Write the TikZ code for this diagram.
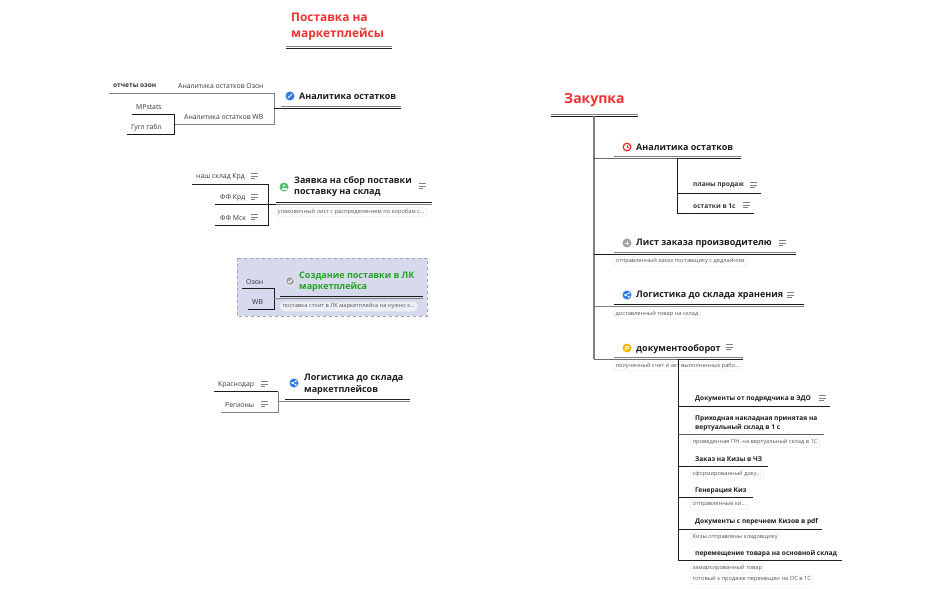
\documentclass[tikz,border=0pt]{standalone}
\usepackage{fontspec}
\setmainfont{Open Sans}
\usepackage{xcolor}
\usetikzlibrary{arrows.meta}
\definecolor{mmred}{HTML}{EE3030}
\definecolor{mmgreen}{HTML}{1FA51F}
\definecolor{mmdark}{HTML}{1C1C1C}
\definecolor{mmgray}{HTML}{808080}
\definecolor{mmtext}{HTML}{333333}
\definecolor{mmnote}{HTML}{555555}
\definecolor{mmbox}{HTML}{D6DAEC}
\definecolor{mmdash}{HTML}{9A9FD0}
\definecolor{mmblue}{HTML}{2F7BEA}
\definecolor{mmgrn}{HTML}{4CC36A}
\definecolor{mmyel}{HTML}{F8B400}
\definecolor{mmsilver}{HTML}{A0A0A0}
\tikzset{
  title/.style={anchor=west,inner sep=0pt,yshift=-0.7pt,align=left,text=mmred,font=\fontsize{11.9}{16}\selectfont\bfseries},
  topic/.style={anchor=west,inner sep=0pt,yshift=-0.7pt,align=left,text=mmdark,font=\fontsize{9}{11.5}\selectfont\bfseries},
  sub/.style={anchor=west,inner sep=0pt,yshift=-0.7pt,align=left,text=mmdark,font=\fontsize{6.6}{9.5}\selectfont\bfseries},
  leaf/.style={anchor=west,inner sep=0pt,yshift=-0.7pt,text=mmtext,font=\fontsize{6.85}{9}\selectfont},
  leafbold/.style={leaf,font=\fontsize{6.6}{9}\selectfont\bfseries},
  pill/.style={anchor=west,draw=black!10,fill=white,rounded corners=4pt,inner xsep=2.5pt,inner ysep=0pt,
    minimum height=9.5pt,text=mmnote,font=\fontsize{5.7}{7}\selectfont},
  icon/.style={circle,inner sep=0pt,minimum size=9pt},
  rulea/.style={line width=1pt,mmdark},
  ruleb/.style={line width=1pt,mmgray},
  trunk/.style={line width=1.5pt,mmgray},
  notes/.pic={
    \draw[line width=0.8pt,mmgray] (-3.5,-2.5) -- (3.5,-2.5) (-3.5,0) -- (3.5,0) (-3.5,2.5) -- (1,2.5);
  },
  gchart/.pic={
    \draw[white,line width=1pt] (-2.2,1.8) -- (0,0) -- (2,-2);
  },
  gperson/.pic={
    \fill[white] (0,-1.4) circle (1.3);
    \fill[white] (-2.5,2.6) rectangle (2.5,0.8);
  },
  gcheck/.pic={
    \draw[white,line width=1pt] (-2.2,0) -- (-0.6,1.7) -- (2.2,-1.6);
  },
  gshare/.pic={
    \draw[white,line width=0.6pt] (1.8,-1.8) -- (-1.8,0) -- (1.8,1.8);
    \fill[white] (1.8,-1.8) circle (1) (-1.8,0) circle (1) (1.8,1.8) circle (1);
  },
  gclock/.pic={
    \fill[white] (0,0) circle (3);
    \draw[mmred,line width=0.8pt] (0,-2) -- (0,0) -- (2,0);
  },
  gplus/.pic={
    \draw[white,line width=1pt] (-2.4,0) -- (2.4,0) (0,-2.4) -- (0,2.4);
  },
  gflag/.pic={
    \fill[white] (-2,-2.4) rectangle (2.4,0.8);
    \fill[mmyel] (-0.6,-1.2) rectangle (1.2,-0.2);
    \fill[white] (-2,0) rectangle (-0.8,2.8);
  },
}
\begin{document}
\begin{tikzpicture}[x=1pt,y=-1pt]
  \useasboundingbox (0,0) rectangle (951,589);

  \node[title] (delivery) at (291,26) {Поставка на\\маркетплейсы};
  \coordinate (deliveryA) at (286,48);
  \coordinate (deliveryB) at (392,48);
  \draw[rulea] (deliveryA) -- (deliveryB);
  \draw[ruleb] ([yshift=2pt]deliveryA) -- ([yshift=2pt]deliveryB);

  \node[icon,fill=mmblue] (stockIcon) at (290,96) {};
  \pic at (stockIcon) {gchart};
  \node[topic] (stock) at (299,96) {Аналитика остатков};
  \coordinate (stockA) at (281,108);
  \coordinate (stockB) at (401,108);
  \draw[rulea] (stockA) -- (stockB);
  \draw[ruleb] ([yshift=2pt]stockA) -- ([yshift=2pt]stockB);
  \coordinate (stockFork) at (274,108);
  \coordinate (ozonEnd) at (274,93);
  \coordinate (wbEnd) at (274,124);
  \coordinate (ozonStart) at (109,93);
  \coordinate (wbStart) at (174,124);
  \draw[ruleb] (ozonStart) -- (ozonEnd) -- (wbEnd) -- (wbStart);
  \draw[rulea] (stockFork) -- (stockA);
  \node[leaf] (stockOzon) at (178,85) {Аналитика остатков Озон};
  \node[leaf] (stockWb) at (184,116) {Аналитика остатков WB};
  \node[leafbold] (ozonRep) at (113,85) {отчеты озон};
  \node[leaf] (mpstats) at (136,106) {MPstats};
  \node[leaf] (gtable) at (131,127) {Гугл табл};
  \coordinate (mpA) at (132,114);
  \coordinate (mpB) at (174,114);
  \coordinate (gtA) at (127,134);
  \coordinate (gtB) at (174,134);
  \draw[rulea] (mpA) -- (mpB) -- (gtB) -- (gtA);

  \node[icon,fill=mmgrn] (requestIcon) at (284,187) {};
  \pic at (requestIcon) {gperson};
  \node[topic] (request) at (294,186) {Заявка на сбор поставки\\поставку на склад};
  \pic at (422,186) {notes};
  \coordinate (requestA) at (276,202);
  \coordinate (requestB) at (432,202);
  \draw[rulea] (requestA) -- (requestB);
  \draw[ruleb] ([yshift=-2pt]requestA) -- ([yshift=-2pt]requestB);
  \node[pill] (requestNote) at (275,212) {упаковочный лист с распределением по коробам с...};
  \coordinate (krdA) at (192,184);
  \coordinate (krdB) at (268,184);
  \coordinate (ffkA) at (215,204.5);
  \coordinate (ffkB) at (276,204.5);
  \coordinate (ffmA) at (215,225.5);
  \coordinate (ffmB) at (268,225.5);
  \draw[rulea] (krdA) -- (krdB) -- (ffmB) -- (ffmA);
  \draw[rulea] (ffkA) -- (ffkB);
  \node[leaf] (krd) at (196,176) {наш склад Крд};
  \pic at (254,176) {notes};
  \node[leaf] (ffk) at (220,197) {ФФ Крд};
  \pic at (254,197) {notes};
  \node[leaf] (ffm) at (220,217) {ФФ Мск};
  \pic at (254,217) {notes};

  \fill[mmbox,draw=mmdash,dashed,line width=0.7pt] (237,258) rectangle (427,316);
  \node[icon,fill=mmsilver,draw=white,line width=0.6pt] (createIcon) at (290,281) {};
  \pic at (createIcon) {gcheck};
  \node[topic,text=mmgreen] (create) at (299,281) {Создание поставки в ЛК\\маркетплейса};
  \coordinate (createA) at (280,296.5);
  \coordinate (createB) at (423,296.5);
  \draw[rulea] (createA) -- (createB);
  \draw[ruleb] ([yshift=-2.2pt]createA) -- ([yshift=-2.2pt]createB);
  \node[pill,fill=white!60!mmbox,draw=none] (createNote) at (280,306.5) {поставка стоит в ЛК маркетплейса на нужно к...};
  \coordinate (ozA) at (242,288);
  \coordinate (ozB) at (274,288);
  \coordinate (wbA) at (248,309);
  \coordinate (wbB) at (274,309);
  \coordinate (createFork) at (274,299);
  \draw[rulea] (ozA) -- (ozB) -- (wbB) -- (wbA);
  \draw[ruleb] (createFork) -- ([yshift=-2.2pt]createA);
  \node[leaf] (oz) at (246,281) {Озон};
  \node[leaf] (wb) at (252,301) {WB};

  \node[icon,fill=mmblue] (routeIcon) at (294,383) {};
  \pic at (routeIcon) {gshare};
  \node[topic] (route) at (304,383.5) {Логистика до склада\\маркетплейсов};
  \coordinate (routeA) at (285,399);
  \coordinate (routeB) at (410,399);
  \draw[rulea] (routeA) -- (routeB);
  \draw[ruleb] ([yshift=-2.2pt]routeA) -- ([yshift=-2.2pt]routeB);
  \coordinate (krasA) at (214,391.5);
  \coordinate (krasB) at (278,391.5);
  \coordinate (regA) at (221,412);
  \coordinate (regB) at (278,412);
  \coordinate (routeFork) at (278,401.2);
  \draw[rulea] (krasA) -- (krasB);
  \draw[ruleb] (krasB) -- (regB) -- (regA);
  \draw[ruleb] (routeFork) -- ([yshift=-2.2pt]routeA);
  \node[leaf] (kras) at (218,384) {Краснодар};
  \pic at (264,384) {notes};
  \node[leaf] (reg) at (225,404) {Регионы};
  \pic at (264,404) {notes};

  \node[title,font=\fontsize{14}{17}\selectfont\bfseries] (purchase) at (564,99) {Закупка};
  \coordinate (purchaseA) at (551,116);
  \coordinate (purchaseB) at (638,116);
  \draw[rulea] (purchaseA) -- (purchaseB);
  \draw[ruleb] ([yshift=2pt]purchaseA) -- ([yshift=2pt]purchaseB);
  \coordinate (trunkTop) at (594,116);
  \coordinate (trunkEnd) at (594,359);
  \draw[trunk] (trunkTop) -- (trunkEnd);

  \node[icon,fill=mmred] (planIcon) at (627,147) {};
  \pic at (planIcon) {gclock};
  \node[topic] (plan) at (636,147) {Аналитика остатков};
  \coordinate (planA) at (614,158);
  \coordinate (planB) at (741,158);
  \coordinate (planFork) at (594,158);
  \draw[rulea] (planFork) -- (planA) -- (planB);
  \draw[ruleb] ([yshift=2pt]planA) -- ([yshift=2pt]planB);
  \coordinate (planDown) at (677,158);
  \coordinate (salesFork) at (677,193.5);
  \coordinate (salesEnd) at (761,193.5);
  \coordinate (restFork) at (677,213);
  \coordinate (restEnd) at (754,213);
  \draw[rulea] (planDown) -- (restFork) -- (restEnd);
  \draw[rulea] (salesFork) -- (salesEnd);
  \node[leafbold] (sales) at (693,185) {планы продаж};
  \pic at (753.5,185) {notes};
  \node[leafbold] (rest) at (693,205) {остатки в 1с};
  \pic at (746.5,205) {notes};

  \node[icon,fill=mmsilver] (orderIcon) at (627,243) {};
  \pic at (orderIcon) {gplus};
  \node[topic] (order) at (636,243) {Лист заказа производителю};
  \pic at (782,243) {notes};
  \coordinate (orderA) at (614,254.5);
  \coordinate (orderB) at (796,254.5);
  \coordinate (orderFork) at (594,254.5);
  \draw[rulea] (orderFork) -- (orderA) -- (orderB);
  \draw[ruleb] ([yshift=2pt]orderA) -- ([yshift=2pt]orderB);
  \node[pill] (orderNote) at (613,261.5) {отправленный заказ поставщику с дедлайном};

  \node[icon,fill=mmblue] (haulIcon) at (627,295) {};
  \pic at (haulIcon) {gshare};
  \node[topic] (haul) at (636,295) {Логистика до склада хранения};
  \pic at (790.5,295) {notes};
  \coordinate (haulA) at (614,304);
  \coordinate (haulB) at (804,304);
  \coordinate (haulFork) at (594,306.5);
  \draw[rulea] (haulA) -- (haulB);
  \draw[ruleb] ([yshift=-2.5pt]haulA) -- ([yshift=-2.5pt]haulB);
  \draw[ruleb] (haulFork) -- ([yshift=-2.5pt]haulA);
  \node[pill] (haulNote) at (613,314) {доставленный товар на склад};

  \node[icon,fill=mmyel] (docsIcon) at (627,348) {};
  \pic at (docsIcon) {gflag};
  \node[topic] (docs) at (636,348) {документооборот};
  \pic at (729.5,347) {notes};
  \coordinate (docsA) at (614,359);
  \coordinate (docsB) at (743,359);
  \coordinate (docsFork) at (594,359);
  \draw[rulea] (docsFork) -- (docsA) -- (docsB);
  \draw[ruleb] ([yshift=2pt]docsA) -- ([yshift=2pt]docsB);
  \node[pill] (docsNote) at (613,366) {полученный счет и акт выполненных рабо...};

  \coordinate (docsDown) at (678,359);
  \coordinate (moveFork) at (678,560.5);
  \draw[rulea] (docsDown) -- (moveFork);

  \node[sub] (edo) at (695,398) {Документы от подрядчика в ЭДО};
  \pic at (822.5,398) {notes};
  \coordinate (edoA) at (678,406);
  \coordinate (edoB) at (830,406);
  \draw[rulea] (edoA) -- (edoB);

  \node[sub] (invoice) at (695,422.5) {Приходная накладная принятая на\\вертуальный склад в 1 с};
  \coordinate (invoiceA) at (678,434.5);
  \coordinate (invoiceB) at (824,434.5);
  \draw[ruleb,mmdark!70] (invoiceA) -- (invoiceB);
  \node[pill] (invoiceNote) at (690,442.5) {проведенная ПН. на вертуальный склад в 1С};

  \node[sub] (kiz) at (695,458) {Заказ на Кизы в ЧЗ};
  \coordinate (kizA) at (678,466);
  \coordinate (kizB) at (768,466);
  \draw[rulea] (kizA) -- (kizB);
  \node[pill] (kizNote) at (690,474) {сформированный доку...};

  \node[sub] (gen) at (695,490) {Генерация Киз};
  \coordinate (genA) at (678,497.5);
  \coordinate (genB) at (753,497.5);
  \draw[rulea] (genA) -- (genB);
  \node[pill] (genNote) at (690,505) {отправленные ки...};

  \node[sub] (pdf) at (695,521) {Документы с перечнем Кизов в pdf};
  \coordinate (pdfA) at (678,529);
  \coordinate (pdfB) at (822,529);
  \draw[rulea] (pdfA) -- (pdfB);
  \node[pill] (pdfNote) at (690,537) {Кизы отправлены кладовщику};

  \node[sub] (move) at (695,553) {перемещение товара на основной склад};
  \coordinate (moveB) at (842,560.5);
  \draw[rulea] (moveFork) -- (moveB);
  \node[pill] (moveNote) at (690,568) {замаркированный товар};
  \node[pill] (readyNote) at (690,579.5) {готовый к продаже перемещен на ОС в 1С};
\end{tikzpicture}
\end{document}
